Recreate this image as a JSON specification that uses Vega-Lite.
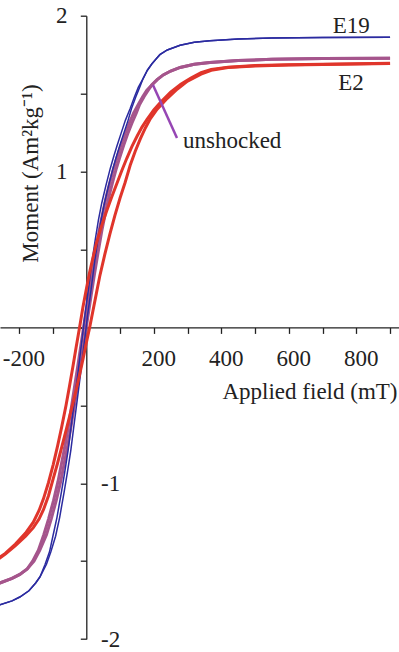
{
"$schema":"https://vega.github.io/schema/vega-lite/v6.json",
"width":399,"height":623.4,
"autosize":{"type":"none"},
"padding":{"left":0,"top":15.7,"right":0,"bottom":12.9},
"config":{"view":{"stroke":null},"font":"'Liberation Serif', 'Times New Roman', Times, serif"},
"datasets":{
"curves":[
{"s":"unshocked","b":"U","H":-270,"M":-1.645},{"s":"unshocked","b":"U","H":-256,"M":-1.64},{"s":"unshocked","b":"U","H":-220,"M":-1.61},{"s":"unshocked","b":"U","H":-197,"M":-1.585},{"s":"unshocked","b":"U","H":-175,"M":-1.55},{"s":"unshocked","b":"U","H":-159,"M":-1.5},{"s":"unshocked","b":"U","H":-142,"M":-1.43},{"s":"unshocked","b":"U","H":-126,"M":-1.33},{"s":"unshocked","b":"U","H":-112,"M":-1.23},{"s":"unshocked","b":"U","H":-97,"M":-1.11},{"s":"unshocked","b":"U","H":-84,"M":-0.99},{"s":"unshocked","b":"U","H":-74,"M":-0.88},{"s":"unshocked","b":"U","H":-64,"M":-0.77},{"s":"unshocked","b":"U","H":-54,"M":-0.645},{"s":"unshocked","b":"U","H":-44,"M":-0.51},{"s":"unshocked","b":"U","H":-34,"M":-0.37},{"s":"unshocked","b":"U","H":-24,"M":-0.23},{"s":"unshocked","b":"U","H":-14,"M":-0.085},{"s":"unshocked","b":"U","H":-4,"M":0.06},{"s":"unshocked","b":"U","H":6,"M":0.2},{"s":"unshocked","b":"U","H":16,"M":0.34},{"s":"unshocked","b":"U","H":26,"M":0.47},{"s":"unshocked","b":"U","H":38,"M":0.62},{"s":"unshocked","b":"U","H":51,"M":0.76},{"s":"unshocked","b":"U","H":61,"M":0.855},{"s":"unshocked","b":"U","H":71,"M":0.94},{"s":"unshocked","b":"U","H":81,"M":1.02},{"s":"unshocked","b":"U","H":91,"M":1.09},{"s":"unshocked","b":"U","H":103,"M":1.17},{"s":"unshocked","b":"U","H":116,"M":1.25},{"s":"unshocked","b":"U","H":128,"M":1.315},{"s":"unshocked","b":"U","H":140,"M":1.375},{"s":"unshocked","b":"U","H":154,"M":1.43},{"s":"unshocked","b":"U","H":167,"M":1.48},{"s":"unshocked","b":"U","H":179,"M":1.52},{"s":"unshocked","b":"U","H":194,"M":1.555},{"s":"unshocked","b":"U","H":210,"M":1.59},{"s":"unshocked","b":"U","H":228,"M":1.62},{"s":"unshocked","b":"U","H":250,"M":1.645},{"s":"unshocked","b":"U","H":278,"M":1.668},{"s":"unshocked","b":"U","H":320,"M":1.688},{"s":"unshocked","b":"U","H":366,"M":1.7},{"s":"unshocked","b":"U","H":450,"M":1.712},{"s":"unshocked","b":"U","H":550,"M":1.72},{"s":"unshocked","b":"U","H":700,"M":1.725},{"s":"unshocked","b":"U","H":900,"M":1.727},
{"s":"unshocked","b":"L","H":-270,"M":-1.645},{"s":"unshocked","b":"L","H":-256,"M":-1.64},{"s":"unshocked","b":"L","H":-220,"M":-1.61},{"s":"unshocked","b":"L","H":-197,"M":-1.585},{"s":"unshocked","b":"L","H":-175,"M":-1.55},{"s":"unshocked","b":"L","H":-155,"M":-1.5},{"s":"unshocked","b":"L","H":-138,"M":-1.43},{"s":"unshocked","b":"L","H":-118,"M":-1.33},{"s":"unshocked","b":"L","H":-104,"M":-1.23},{"s":"unshocked","b":"L","H":-89,"M":-1.11},{"s":"unshocked","b":"L","H":-76,"M":-0.99},{"s":"unshocked","b":"L","H":-66,"M":-0.88},{"s":"unshocked","b":"L","H":-56,"M":-0.77},{"s":"unshocked","b":"L","H":-46,"M":-0.645},{"s":"unshocked","b":"L","H":-36,"M":-0.51},{"s":"unshocked","b":"L","H":-26,"M":-0.37},{"s":"unshocked","b":"L","H":-16,"M":-0.23},{"s":"unshocked","b":"L","H":-6,"M":-0.085},{"s":"unshocked","b":"L","H":4,"M":0.06},{"s":"unshocked","b":"L","H":14,"M":0.2},{"s":"unshocked","b":"L","H":24,"M":0.34},{"s":"unshocked","b":"L","H":34,"M":0.47},{"s":"unshocked","b":"L","H":46,"M":0.62},{"s":"unshocked","b":"L","H":59,"M":0.76},{"s":"unshocked","b":"L","H":69,"M":0.855},{"s":"unshocked","b":"L","H":79,"M":0.94},{"s":"unshocked","b":"L","H":89,"M":1.02},{"s":"unshocked","b":"L","H":99,"M":1.09},{"s":"unshocked","b":"L","H":111,"M":1.17},{"s":"unshocked","b":"L","H":124,"M":1.25},{"s":"unshocked","b":"L","H":136,"M":1.315},{"s":"unshocked","b":"L","H":148,"M":1.375},{"s":"unshocked","b":"L","H":158,"M":1.43},{"s":"unshocked","b":"L","H":171,"M":1.48},{"s":"unshocked","b":"L","H":183,"M":1.52},{"s":"unshocked","b":"L","H":194,"M":1.555},{"s":"unshocked","b":"L","H":210,"M":1.59},{"s":"unshocked","b":"L","H":228,"M":1.62},{"s":"unshocked","b":"L","H":250,"M":1.645},{"s":"unshocked","b":"L","H":278,"M":1.668},{"s":"unshocked","b":"L","H":320,"M":1.688},{"s":"unshocked","b":"L","H":366,"M":1.7},{"s":"unshocked","b":"L","H":450,"M":1.712},{"s":"unshocked","b":"L","H":550,"M":1.72},{"s":"unshocked","b":"L","H":700,"M":1.725},{"s":"unshocked","b":"L","H":900,"M":1.727},
{"s":"E19","b":"U","H":-270,"M":-1.79},{"s":"E19","b":"U","H":-256,"M":-1.78},{"s":"E19","b":"U","H":-220,"M":-1.755},{"s":"E19","b":"U","H":-197,"M":-1.73},{"s":"E19","b":"U","H":-170,"M":-1.69},{"s":"E19","b":"U","H":-150,"M":-1.64},{"s":"E19","b":"U","H":-137,"M":-1.6},{"s":"E19","b":"U","H":-122,"M":-1.52},{"s":"E19","b":"U","H":-109,"M":-1.44},{"s":"E19","b":"U","H":-99,"M":-1.34},{"s":"E19","b":"U","H":-87,"M":-1.22},{"s":"E19","b":"U","H":-74,"M":-1.06},{"s":"E19","b":"U","H":-64,"M":-0.93},{"s":"E19","b":"U","H":-54,"M":-0.79},{"s":"E19","b":"U","H":-44,"M":-0.62},{"s":"E19","b":"U","H":-34,"M":-0.45},{"s":"E19","b":"U","H":-24,"M":-0.28},{"s":"E19","b":"U","H":-14,"M":-0.1},{"s":"E19","b":"U","H":-4,"M":0.08},{"s":"E19","b":"U","H":6,"M":0.24},{"s":"E19","b":"U","H":16,"M":0.41},{"s":"E19","b":"U","H":27,"M":0.57},{"s":"E19","b":"U","H":36,"M":0.69},{"s":"E19","b":"U","H":46,"M":0.8},{"s":"E19","b":"U","H":58,"M":0.91},{"s":"E19","b":"U","H":71,"M":1.02},{"s":"E19","b":"U","H":81,"M":1.095},{"s":"E19","b":"U","H":91,"M":1.165},{"s":"E19","b":"U","H":103,"M":1.245},{"s":"E19","b":"U","H":116,"M":1.33},{"s":"E19","b":"U","H":130,"M":1.405},{"s":"E19","b":"U","H":142,"M":1.475},{"s":"E19","b":"U","H":154,"M":1.54},{"s":"E19","b":"U","H":169,"M":1.6},{"s":"E19","b":"U","H":181,"M":1.65},{"s":"E19","b":"U","H":194,"M":1.69},{"s":"E19","b":"U","H":206,"M":1.72},{"s":"E19","b":"U","H":218,"M":1.75},{"s":"E19","b":"U","H":240,"M":1.78},{"s":"E19","b":"U","H":278,"M":1.81},{"s":"E19","b":"U","H":320,"M":1.83},{"s":"E19","b":"U","H":366,"M":1.84},{"s":"E19","b":"U","H":450,"M":1.85},{"s":"E19","b":"U","H":550,"M":1.857},{"s":"E19","b":"U","H":700,"M":1.86},{"s":"E19","b":"U","H":900,"M":1.862},
{"s":"E19","b":"L","H":-270,"M":-1.79},{"s":"E19","b":"L","H":-256,"M":-1.78},{"s":"E19","b":"L","H":-220,"M":-1.755},{"s":"E19","b":"L","H":-197,"M":-1.73},{"s":"E19","b":"L","H":-170,"M":-1.69},{"s":"E19","b":"L","H":-150,"M":-1.64},{"s":"E19","b":"L","H":-137,"M":-1.6},{"s":"E19","b":"L","H":-118,"M":-1.52},{"s":"E19","b":"L","H":-105,"M":-1.44},{"s":"E19","b":"L","H":-91,"M":-1.34},{"s":"E19","b":"L","H":-79,"M":-1.22},{"s":"E19","b":"L","H":-66,"M":-1.06},{"s":"E19","b":"L","H":-56,"M":-0.93},{"s":"E19","b":"L","H":-46,"M":-0.79},{"s":"E19","b":"L","H":-36,"M":-0.62},{"s":"E19","b":"L","H":-26,"M":-0.45},{"s":"E19","b":"L","H":-16,"M":-0.28},{"s":"E19","b":"L","H":-6,"M":-0.1},{"s":"E19","b":"L","H":4,"M":0.08},{"s":"E19","b":"L","H":14,"M":0.24},{"s":"E19","b":"L","H":24,"M":0.41},{"s":"E19","b":"L","H":35,"M":0.57},{"s":"E19","b":"L","H":44,"M":0.69},{"s":"E19","b":"L","H":54,"M":0.8},{"s":"E19","b":"L","H":66,"M":0.91},{"s":"E19","b":"L","H":79,"M":1.02},{"s":"E19","b":"L","H":89,"M":1.095},{"s":"E19","b":"L","H":99,"M":1.165},{"s":"E19","b":"L","H":111,"M":1.245},{"s":"E19","b":"L","H":124,"M":1.33},{"s":"E19","b":"L","H":134,"M":1.405},{"s":"E19","b":"L","H":146,"M":1.475},{"s":"E19","b":"L","H":158,"M":1.54},{"s":"E19","b":"L","H":169,"M":1.6},{"s":"E19","b":"L","H":181,"M":1.65},{"s":"E19","b":"L","H":194,"M":1.69},{"s":"E19","b":"L","H":206,"M":1.72},{"s":"E19","b":"L","H":218,"M":1.75},{"s":"E19","b":"L","H":240,"M":1.78},{"s":"E19","b":"L","H":278,"M":1.81},{"s":"E19","b":"L","H":320,"M":1.83},{"s":"E19","b":"L","H":366,"M":1.84},{"s":"E19","b":"L","H":450,"M":1.85},{"s":"E19","b":"L","H":550,"M":1.857},{"s":"E19","b":"L","H":700,"M":1.86},{"s":"E19","b":"L","H":900,"M":1.862},
{"s":"E2","b":"U","H":-270,"M":-1.495},{"s":"E2","b":"U","H":-240,"M":-1.45},{"s":"E2","b":"U","H":-210,"M":-1.39},{"s":"E2","b":"U","H":-180,"M":-1.32},{"s":"E2","b":"U","H":-157,"M":-1.25},{"s":"E2","b":"U","H":-140,"M":-1.175},{"s":"E2","b":"U","H":-127,"M":-1.1},{"s":"E2","b":"U","H":-112,"M":-0.995},{"s":"E2","b":"U","H":-98,"M":-0.88},{"s":"E2","b":"U","H":-85,"M":-0.76},{"s":"E2","b":"U","H":-73,"M":-0.64},{"s":"E2","b":"U","H":-60,"M":-0.5},{"s":"E2","b":"U","H":-50,"M":-0.38},{"s":"E2","b":"U","H":-40,"M":-0.255},{"s":"E2","b":"U","H":-30,"M":-0.125},{"s":"E2","b":"U","H":-20,"M":0},{"s":"E2","b":"U","H":-10,"M":0.13},{"s":"E2","b":"U","H":0,"M":0.245},{"s":"E2","b":"U","H":10,"M":0.355},{"s":"E2","b":"U","H":20,"M":0.45},{"s":"E2","b":"U","H":30,"M":0.54},{"s":"E2","b":"U","H":45,"M":0.65},{"s":"E2","b":"U","H":60,"M":0.745},{"s":"E2","b":"U","H":75,"M":0.835},{"s":"E2","b":"U","H":90,"M":0.92},{"s":"E2","b":"U","H":105,"M":1.005},{"s":"E2","b":"U","H":120,"M":1.085},{"s":"E2","b":"U","H":135,"M":1.16},{"s":"E2","b":"U","H":150,"M":1.225},{"s":"E2","b":"U","H":165,"M":1.285},{"s":"E2","b":"U","H":180,"M":1.335},{"s":"E2","b":"U","H":200,"M":1.395},{"s":"E2","b":"U","H":220,"M":1.445},{"s":"E2","b":"U","H":250,"M":1.51},{"s":"E2","b":"U","H":280,"M":1.56},{"s":"E2","b":"U","H":310,"M":1.6},{"s":"E2","b":"U","H":340,"M":1.635},{"s":"E2","b":"U","H":370,"M":1.655},{"s":"E2","b":"U","H":420,"M":1.67},{"s":"E2","b":"U","H":500,"M":1.68},{"s":"E2","b":"U","H":600,"M":1.685},{"s":"E2","b":"U","H":750,"M":1.69},{"s":"E2","b":"U","H":900,"M":1.695},
{"s":"E2","b":"L","H":-270,"M":-1.5},{"s":"E2","b":"L","H":-240,"M":-1.455},{"s":"E2","b":"L","H":-210,"M":-1.4},{"s":"E2","b":"L","H":-180,"M":-1.34},{"s":"E2","b":"L","H":-157,"M":-1.285},{"s":"E2","b":"L","H":-140,"M":-1.23},{"s":"E2","b":"L","H":-127,"M":-1.17},{"s":"E2","b":"L","H":-112,"M":-1.08},{"s":"E2","b":"L","H":-98,"M":-0.97},{"s":"E2","b":"L","H":-85,"M":-0.87},{"s":"E2","b":"L","H":-73,"M":-0.77},{"s":"E2","b":"L","H":-60,"M":-0.66},{"s":"E2","b":"L","H":-50,"M":-0.575},{"s":"E2","b":"L","H":-40,"M":-0.49},{"s":"E2","b":"L","H":-30,"M":-0.4},{"s":"E2","b":"L","H":-20,"M":-0.305},{"s":"E2","b":"L","H":-10,"M":-0.205},{"s":"E2","b":"L","H":0,"M":-0.1},{"s":"E2","b":"L","H":10,"M":0},{"s":"E2","b":"L","H":20,"M":0.11},{"s":"E2","b":"L","H":30,"M":0.22},{"s":"E2","b":"L","H":40,"M":0.33},{"s":"E2","b":"L","H":55,"M":0.47},{"s":"E2","b":"L","H":70,"M":0.6},{"s":"E2","b":"L","H":85,"M":0.72},{"s":"E2","b":"L","H":100,"M":0.83},{"s":"E2","b":"L","H":115,"M":0.93},{"s":"E2","b":"L","H":130,"M":1.04},{"s":"E2","b":"L","H":145,"M":1.13},{"s":"E2","b":"L","H":160,"M":1.21},{"s":"E2","b":"L","H":175,"M":1.28},{"s":"E2","b":"L","H":190,"M":1.34},{"s":"E2","b":"L","H":210,"M":1.4},{"s":"E2","b":"L","H":240,"M":1.47},{"s":"E2","b":"L","H":270,"M":1.53},{"s":"E2","b":"L","H":300,"M":1.58},{"s":"E2","b":"L","H":340,"M":1.625},{"s":"E2","b":"L","H":370,"M":1.65},{"s":"E2","b":"L","H":420,"M":1.667},{"s":"E2","b":"L","H":500,"M":1.678},{"s":"E2","b":"L","H":600,"M":1.684},{"s":"E2","b":"L","H":750,"M":1.689},{"s":"E2","b":"L","H":900,"M":1.694}
]},
"encoding":{
 "x":{"field":"H","type":"quantitative","scale":{"domain":[-255.7,926.5],"nice":false,"zero":false},
  "axis":{"orient":"bottom","offset":-311.7,"values":[-200,-100,0,100,200,300,400,500,600,700,800,900],
   "labelExpr":"datum.value % 200 == 0 && datum.value != 0 ? (datum.value < 0 ? '-' : '') + abs(datum.value) : ''",
   "tickSize":6,"tickWidth":1.3,"tickColor":"#222","domainColor":"#222","domainWidth":1.3,"grid":false,
   "labelFont":"'Liberation Serif', 'Times New Roman', Times, serif","labelFontSize":23,"labelColor":"#222","labelPadding":32,"labelBaseline":"alphabetic","labelOffset":4.5,"labelFlush":false,"labelOverlap":false,
   "title":"Applied field (mT)","titleFont":"'Liberation Serif', 'Times New Roman', Times, serif","titleFontSize":23,"titleFontWeight":"normal","titleColor":"#222","titleX":397,"titleY":71,"titleAlign":"right","titleBaseline":"alphabetic"}}
},
"layer":[
{"data":{"name":"curves"},
 "mark":{"type":"line","clip":true},
 "encoding":{
  "y":{"field":"M","type":"quantitative","scale":{"domain":[-2,2],"nice":false,"zero":false},
   "axis":{"orient":"left","offset":-86.3,"values":[-2,-1.5,-1,-0.5,0,0.5,1,1.5,2],
    "labelExpr":"datum.value == 1 || datum.value == 2 ? '' + datum.value : ''",
    "tickSize":6,"tickWidth":1.3,"tickColor":"#222","domainColor":"#222","domainWidth":1.3,"grid":false,
    "labelFont":"'Liberation Serif', 'Times New Roman', Times, serif","labelFontSize":23,"labelColor":"#222","labelPadding":13.3,"labelBaseline":"middle","labelFlush":false,"labelOverlap":false,
    "title":"Moment (Am²kg⁻¹)","titleFont":"'Liberation Serif', 'Times New Roman', Times, serif","titleFontSize":23,"titleFontWeight":"normal","titleColor":"#222","titleAngle":270,"titleX":-49.3,"titleY":157.3,"titleAlign":"center","titleBaseline":"alphabetic"}},
  "color":{"field":"s","type":"nominal","scale":{"domain":["unshocked","E19","E2"],"range":["#a5558c","#2b2ba0","#e0352b"]},"legend":null},
  "strokeWidth":{"field":"s","type":"nominal","scale":{"type":"ordinal","domain":["unshocked","E19","E2"],"range":[3,1.5,3]},"legend":null},
  "detail":{"field":"b"}
 }},
{"data":{"values":[{"H":197.6,"M":1.555,"H2":268.7,"M2":1.215}]},
 "mark":{"type":"rule","color":"#9646b4","strokeWidth":2.5},
 "encoding":{
  "y":{"field":"M","type":"quantitative","axis":null},
  "x2":{"field":"H2"},
  "y2":{"field":"M2"}
 }},
{"data":{"values":[{"H":730,"M":1.887,"t":"E19"},{"H":746.7,"M":1.523,"t":"E2"},{"H":286.5,"M":1.15,"t":"unshocked"}]},
 "mark":{"type":"text","align":"left","baseline":"alphabetic","fontSize":23,"font":"'Liberation Serif', 'Times New Roman', Times, serif","color":"#222"},
 "encoding":{
  "y":{"field":"M","type":"quantitative",
   "axis":{"orient":"right","offset":-312.7,"values":[-2,-1],"labelExpr":"'-' + abs(datum.value)","ticks":false,"domain":false,"grid":false,
    "labelFont":"'Liberation Serif', 'Times New Roman', Times, serif","labelFontSize":23,"labelColor":"#222","labelPadding":14.2,"labelBaseline":"middle","labelAlign":"left","labelFlush":false,"labelOverlap":false,"title":null}},
  "text":{"field":"t"}
 }}
],
"resolve":{"axis":{"y":"independent"}}
}
